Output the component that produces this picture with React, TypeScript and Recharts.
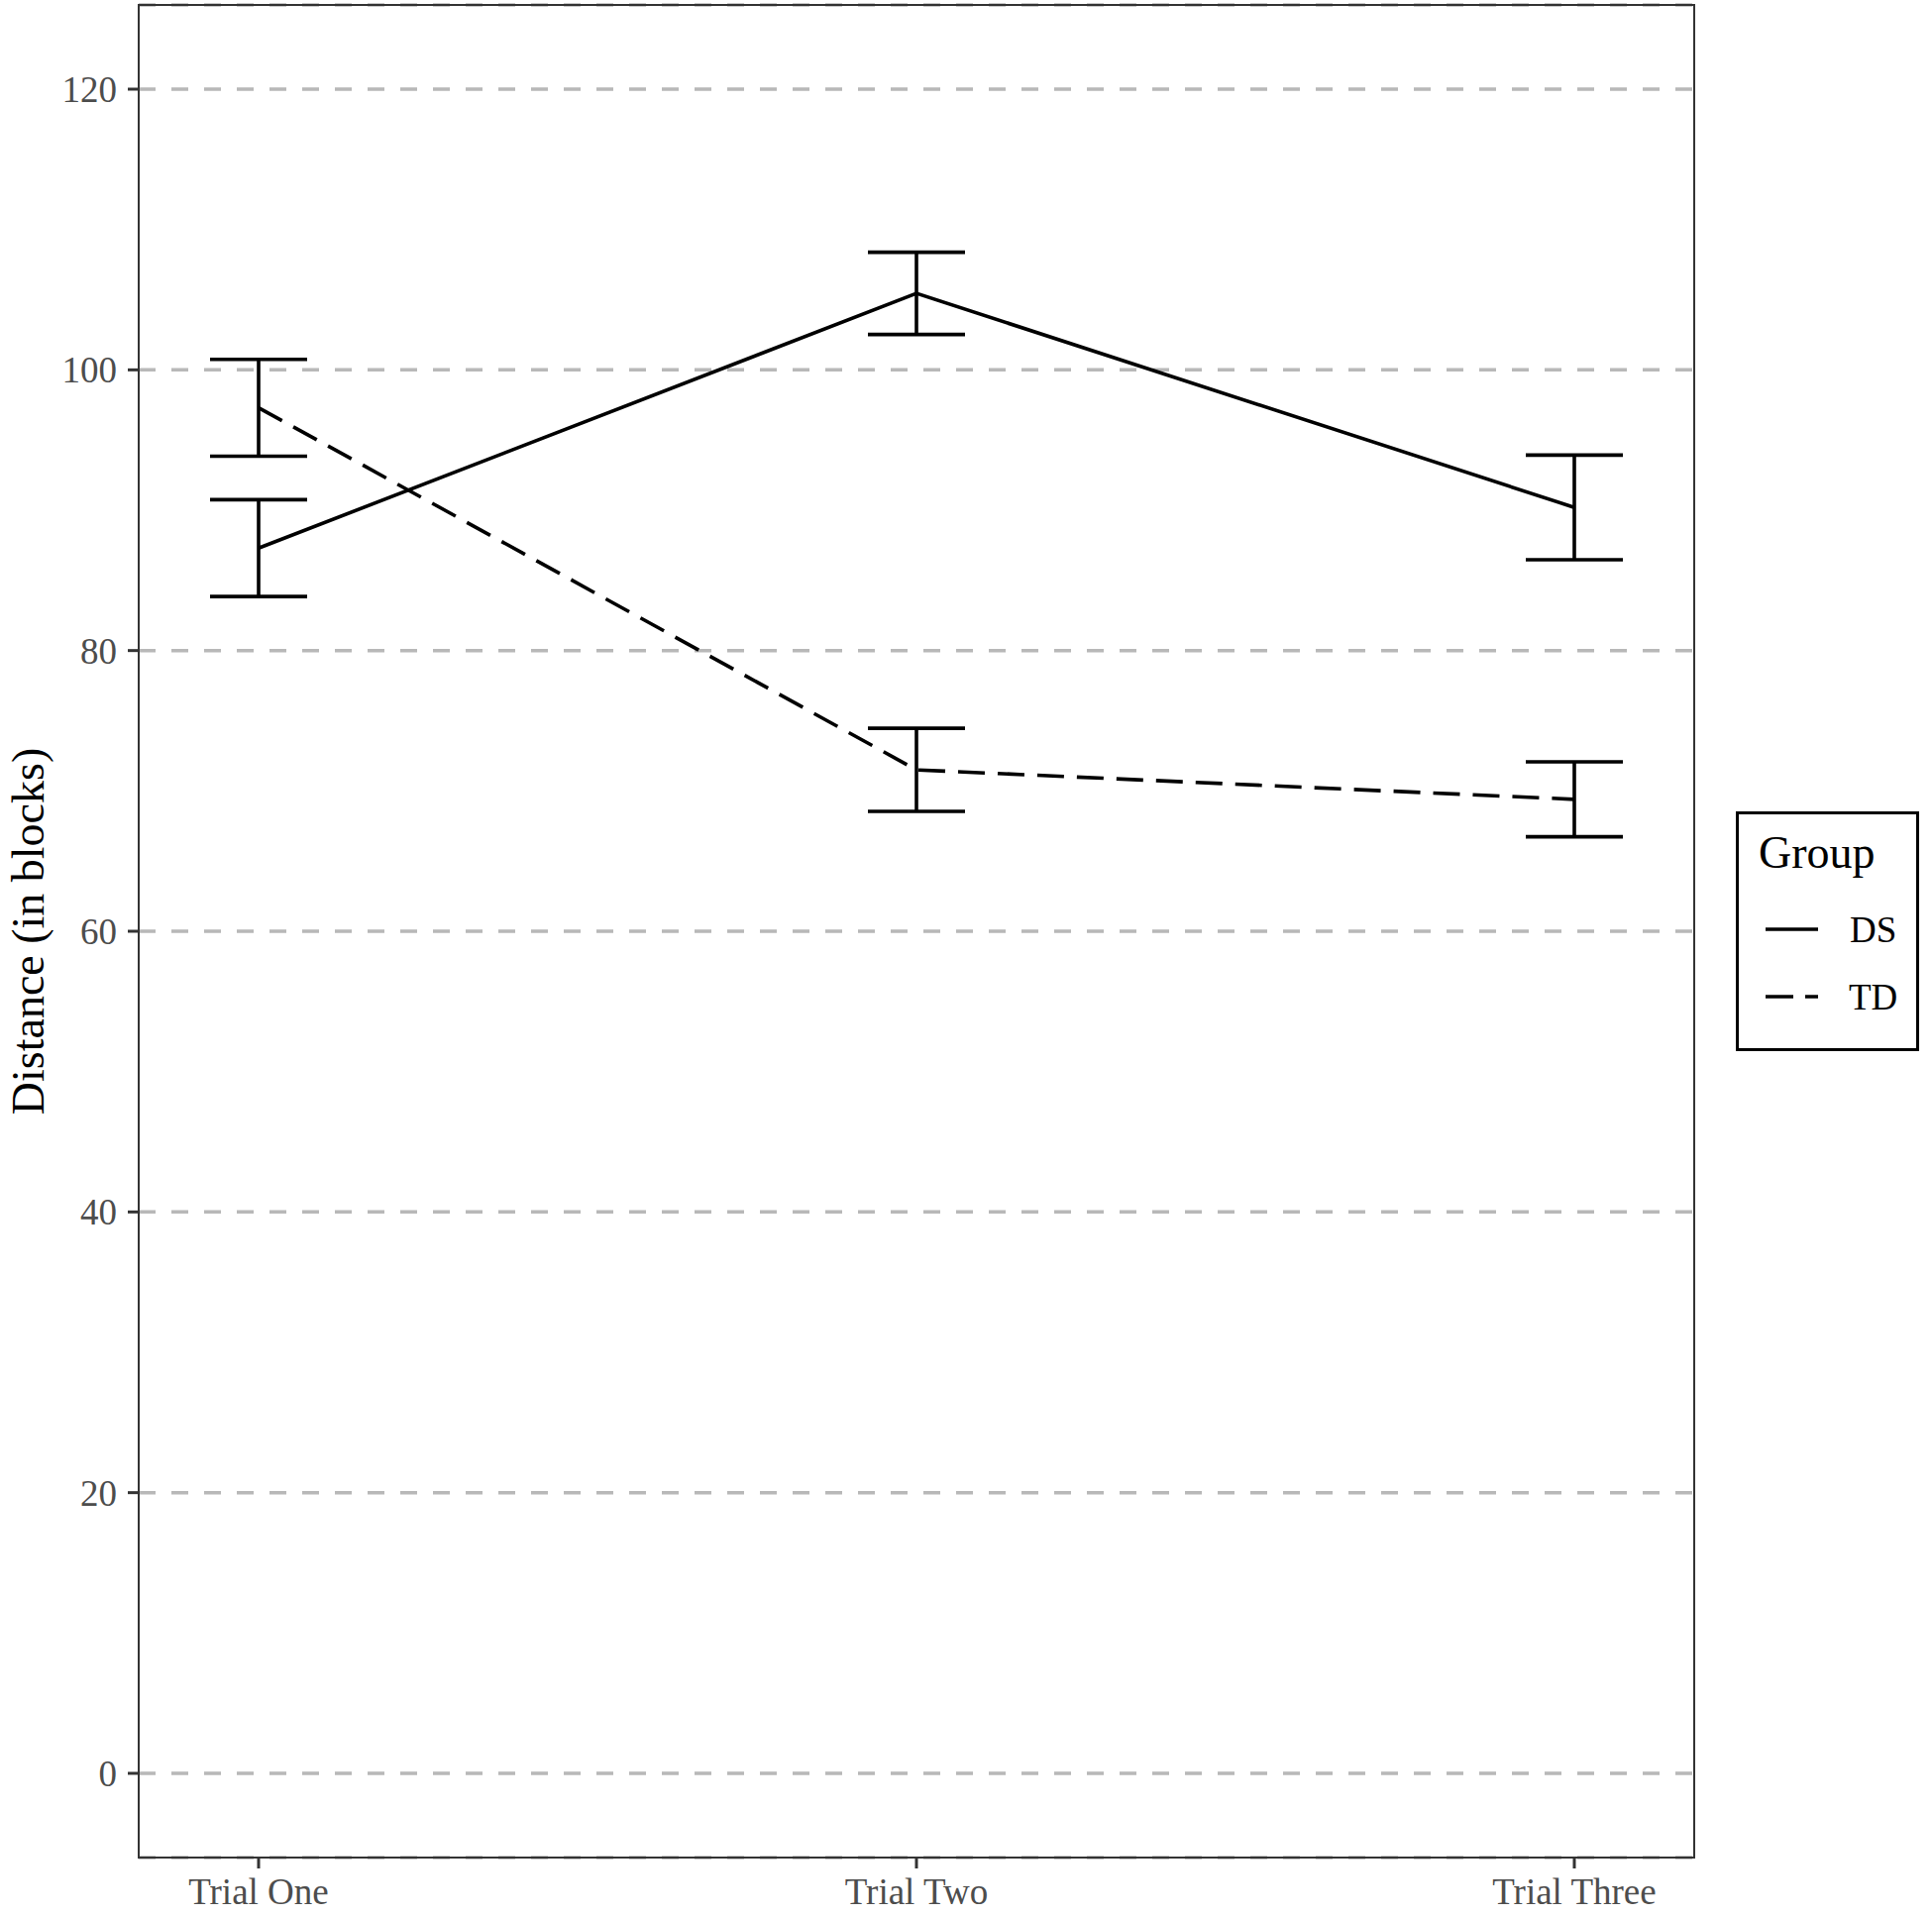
import { CartesianGrid, ErrorBar, Line, LineChart, XAxis, YAxis } from "recharts";

const trials = ["Trial One", "Trial Two", "Trial Three"];
const dsMean = [87.3, 105.45, 90.2];
const dsErr = [3.45, 2.93, 3.73];
const tdMean = [97.3, 71.5, 69.4];
const tdErr = [3.45, 2.96, 2.67];
const yTicks = [0, 20, 40, 60, 80, 100, 120];

const data = trials.map((trial, i) => ({
  trial,
  ds: dsMean[i],
  dsErr: dsErr[i],
  td: tdMean[i],
  tdErr: tdErr[i],
}));

const FONT = "'Liberation Serif', 'Times New Roman', serif";
const INK = "#000000";
const AXIS = "#333333";
const LW = 3.6;

function GroupLegend() {
  return (
    <svg
      width={185}
      height={242}
      style={{ position: "absolute", left: 1752, top: 819, overflow: "visible" }}
    >
      <rect x={1.5} y={1.5} width={182} height={239} fill="#fff" stroke={INK} strokeWidth={3} />
      <text x={23} y={57} fontFamily={FONT} fontSize={46} fill={INK}>
        Group
      </text>
      <line x1={30} x2={83} y1={119} y2={119} stroke={INK} strokeWidth={LW} />
      <text x={115} y={119} dy="0.35em" fontFamily={FONT} fontSize={37} fill={INK}>
        DS
      </text>
      <line x1={30} x2={83} y1={187} y2={187} stroke={INK} strokeWidth={LW} strokeDasharray="28 12" />
      <text x={114} y={187} dy="0.35em" fontFamily={FONT} fontSize={37} fill={INK}>
        TD
      </text>
    </svg>
  );
}

export default function App() {
  return (
    <div
      style={{
        position: "absolute",
        left: 0,
        top: 0,
        width: 1950,
        height: 1934,
        background: "#ffffff",
      }}
    >
      <LineChart
        width={1950}
        height={1934}
        data={data}
        margin={{ top: 5, right: 240, bottom: 0, left: 60 }}
      >
        <CartesianGrid
          vertical={false}
          stroke="#b8b8b8"
          strokeWidth={3.5}
          strokeDasharray="17 16"
        />
        <XAxis
          dataKey="trial"
          height={59}
          padding={{ left: 121, right: 121 }}
          axisLine={{ stroke: AXIS, strokeWidth: 2 }}
          tickLine={{ stroke: AXIS, strokeWidth: 3 }}
          tickSize={11}
          tickMargin={10}
          tick={{ fontFamily: FONT, fontSize: 37, fill: "#4d4d4d" }}
          interval={0}
        />
        <YAxis
          width={80}
          domain={[-6, 126]}
          ticks={yTicks}
          allowDataOverflow
          axisLine={{ stroke: AXIS, strokeWidth: 2 }}
          tickLine={{ stroke: AXIS, strokeWidth: 3 }}
          tickSize={11}
          tickMargin={11}
          tick={{ fontFamily: FONT, fontSize: 37, fill: "#4d4d4d" }}
          label={{
            content: () => (
              <text
                x={44}
                y={940}
                transform="rotate(-90 44 940)"
                textAnchor="middle"
                fontFamily={FONT}
                fontSize={46}
                fill={INK}
              >
                Distance (in blocks)
              </text>
            ),
          }}
        />
        <Line
          dataKey="ds"
          name="DS"
          stroke={INK}
          strokeWidth={LW}
          dot={false}
          activeDot={false}
          isAnimationActive={false}
          type="linear"
        >
          <ErrorBar
            dataKey="dsErr"
            direction="y"
            width={49}
            stroke={INK}
            strokeWidth={LW}
            isAnimationActive={false}
          />
        </Line>
        <Line
          dataKey="td"
          name="TD"
          stroke={INK}
          strokeWidth={LW}
          strokeDasharray="27 13"
          dot={false}
          activeDot={false}
          isAnimationActive={false}
          type="linear"
        >
          <ErrorBar
            dataKey="tdErr"
            direction="y"
            width={49}
            stroke={INK}
            strokeWidth={LW}
            isAnimationActive={false}
          />
        </Line>
      </LineChart>
      {/* panel border */}
      <div
        style={{
          position: "absolute",
          left: 139,
          top: 4,
          width: 1572,
          height: 1872,
          boxSizing: "border-box",
          border: `2px solid ${AXIS}`,
          pointerEvents: "none",
        }}
      />
      <GroupLegend />
    </div>
  );
}
